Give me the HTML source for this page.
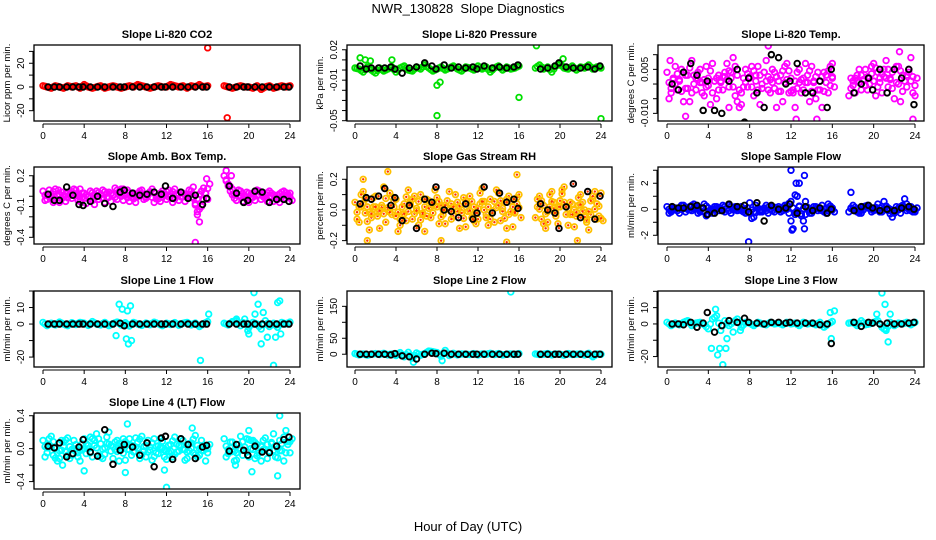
<!DOCTYPE html>
<html><head><meta charset="utf-8">
<style>
html,body{margin:0;padding:0;background:#fff;}
svg{display:block;font-family:"Liberation Sans",Arial,sans-serif;}
</style></head>
<body>
<svg id="chart" width="936" height="540" viewBox="0 0 936 540" xmlns="http://www.w3.org/2000/svg">
<rect width="936" height="540" fill="#fff"/>
<text x="468" y="13" text-anchor="middle" font-size="13">NWR_130828 &#160;Slope Diagnostics</text>
<text x="468" y="531" text-anchor="middle" font-size="13">Hour of Day (UTC)</text>
</svg>
<script>
const T=[0,0.4,0.8,1.2,1.6,2,2.4,2.8,3.2,3.6,4,4.4,4.8,5.2,5.6,6,6.4,6.8,7.2,7.6,8,8.4,8.8,9.2,9.6,10,10.4,10.8,11.2,11.6,12,12.4,12.8,13.2,13.6,14,14.4,14.8,15.2,15.6,16,17.6,18,18.4,18.8,19.2,19.6,20,20.4,20.8,21.2,21.6,22,22.4,22.8,23.2,23.6,24];
const TB=[0.5,1.1,1.6,2.3,2.9,3.5,3.9,4.6,5.3,6.0,6.8,7.5,7.9,8.7,9.4,10.1,10.8,11.5,11.9,12.6,13.4,14.1,14.8,15.5,15.9,18.1,18.8,19.5,19.9,20.6,21.3,22.0,22.7,23.4,23.9];
const xTicks=[0,4,8,12,16,20,24];

const co2A=[1,0,-1,1,0,-1,1,0,1,-1,2,0,-1,0,1,-1,0,1,0,-1,0,1,0,2,1,0,-1,0,1,0,0,2,1,0,1,-1,1,0,2,0,1,1,0,-1,0,1,0,0,-1,1,-2,0,1,-1,0,1,0,1];
const co2K=[0,0,0,0,0,0,0,0,0,0,0,0,0,0,0,0,0,0,0,0,0,0,0,0,0,0,0,0,0,0,0,0,0,0,0];
const co2OT=[16,17.9];
const co2OV=[33,-26];

const presA=[0.002,0.001,-0.002,0.003,0,-0.003,0.002,-0.001,0.001,0.003,-0.002,0.002,0.004,0,-0.001,0.003,0.001,0.005,0.002,-0.001,0.001,0.003,0,0.002,0.004,0.001,-0.001,0.003,0.002,0,0.004,0.001,0.003,-0.002,0.002,0.004,0,0.003,0.001,0.002,0.004,0.002,0.005,0.001,0.003,-0.002,0.004,0.006,0.002,0.001,0.004,0,0.003,0.002,0.005,0.001,0.003,0.002];
const presK=[0.004,0.001,0.002,0.002,0.002,0.003,0.001,-0.003,0.002,0.003,0.007,0.004,0.001,0.005,0.002,0.003,0.002,0.003,0.001,0.004,0.002,0.003,0.002,0.003,0.005,0.001,0.002,0.004,0.007,0.003,0.002,0.002,0.003,0.001,0.004];
const presOT=[0.5,1,1.5,3.6,8,8,8.3,16,17.7,20.3,24];
const presOV=[0.012,0.01,0.009,0.01,-0.015,-0.045,-0.012,-0.027,0.024,0.011,-0.048];

const tempA=[0.004,-0.003,0.006,0.001,-0.006,0.003,0.008,-0.002,0.005,-0.004,0.002,0.007,-0.005,0.001,0.004,-0.001,0.009,0.003,-0.007,0.005,0.002,-0.004,0.006,0.000,0.008,-0.003,0.004,0.001,-0.006,0.007,0.002,-0.008,0.005,-0.002,0.003,0.006,-0.005,0.001,0.004,-0.003,0.002,-0.004,0.001,0.003,-0.002,0.005,0.000,0.007,0.004,-0.003,0.008,0.002,-0.005,0.006,0.003,-0.001,0.009,-0.004];
const tempB=[-0.005,0.002,-0.002,0.005,0.003,-0.006,0.000,0.004,-0.003,0.006,-0.007,0.001,0.003,-0.002,0.007,0.002,-0.004,-0.008,0.002,-0.001,0.006,0.003,-0.007,0.004,-0.002,0.005,-0.008,0.003,0.006,-0.003,-0.002,0.004,-0.003,0.007,-0.006,0.001,0.004,-0.008,0.003,0.006,-0.001,0.002,-0.003,0.005,0.001,-0.002,0.006,-0.004,0.002,0.005,-0.001,0.004,0.006,-0.006,0.001,0.005,-0.003,0.002];
const tempK=[0.000,-0.002,0.004,0.007,0.003,-0.009,0.001,-0.009,-0.010,0.001,0.005,-0.013,0.002,-0.003,-0.008,0.010,0.009,0.000,0.001,0.007,-0.003,-0.003,0.001,-0.008,0.005,-0.003,0.000,0.002,-0.002,0.005,-0.003,0.005,0.002,0.005,-0.007];
const tempOT=[0.3,1.8,6,9.8,12.5,14.5,16,22.5,23.8];
const tempOV=[0.008,-0.011,-0.008,0.013,-0.012,-0.012,0.007,0.011,-0.012];

const ambA=[0.05,-0.03,0.02,0.07,-0.06,0.01,0.04,-0.02,0.06,-0.05,0.03,0.00,-0.04,0.05,0.02,-0.06,0.04,0.01,-0.03,0.07,0.02,-0.05,0.03,0.00,0.06,-0.02,0.04,-0.06,0.01,0.05,-0.03,0.02,0.07,-0.04,0.03,-0.01,0.05,-0.07,0.02,0.08,-0.03,0.20,0.12,0.07,-0.04,0.05,0.00,-0.06,0.03,0.06,-0.03,0.02,0.05,-0.05,0.01,0.04,-0.02,0.03];
const ambB=[-0.04,0.06,-0.06,0.00,0.04,-0.05,0.02,0.07,-0.04,0.03,-0.07,0.05,0.02,-0.03,0.06,0.03,-0.05,0.08,0.04,-0.04,0.06,0.01,-0.06,0.05,-0.03,0.02,0.07,0.00,-0.05,0.03,0.06,-0.06,0.01,0.04,-0.05,0.06,-0.02,-0.15,-0.10,0.03,0.12,0.15,0.05,-0.02,0.06,-0.05,0.04,0.02,-0.04,0.05,0.01,-0.05,0.03,0.00,-0.06,0.05,0.02,-0.04];
const ambK=[0.02,-0.04,-0.04,0.09,0.01,-0.08,-0.09,-0.05,0.00,-0.07,-0.10,0.04,0.06,0.03,0.01,0.02,0.04,0.02,0.10,-0.02,0.04,-0.02,0.01,-0.08,-0.02,0.10,0.03,-0.06,-0.04,0.05,0.04,-0.06,-0.03,-0.03,-0.05];
const ambOT=[1.5,3.6,5,7.8,14.6,15.0,15.2,15.9,17.8,18.3,14.8];
const ambOV=[0.06,0.07,-0.08,0.07,0.09,-0.18,-0.25,0.17,0.25,0.2,-0.45];

const rhA=[0.05,-0.08,0.12,0.02,-0.05,0.09,-0.12,0.15,0.00,-0.03,0.07,-0.10,0.04,0.13,-0.06,0.01,0.10,-0.14,0.06,-0.02,0.08,0.03,-0.09,0.12,-0.04,0.05,0.00,-0.11,0.09,0.02,-0.06,0.14,-0.03,0.07,-0.08,0.11,0.01,-0.12,0.06,-0.02,0.10,-0.05,0.09,0.03,-0.08,0.12,-0.02,0.06,0.15,-0.10,0.04,-0.04,0.10,0.00,-0.13,0.07,-0.06,0.11];
const rhB=[-0.06,0.10,-0.02,-0.13,0.08,-0.04,0.03,-0.08,0.11,0.06,-0.14,0.02,-0.07,0.05,0.09,-0.10,-0.03,0.07,-0.05,0.13,-0.09,0.00,0.06,-0.06,0.10,-0.12,0.08,0.04,-0.05,-0.09,0.11,0.00,-0.10,-0.02,0.13,-0.07,0.05,0.09,-0.11,0.08,-0.05,0.07,-0.06,-0.12,0.10,0.01,-0.09,0.13,-0.03,0.05,-0.11,0.08,-0.01,-0.08,0.06,0.12,-0.04,-0.07];
const rhK=[0.04,0.08,0.07,0.09,0.14,0.03,0.08,-0.07,0.03,-0.12,0.07,0.05,0.15,0.00,-0.01,-0.05,0.04,-0.06,-0.02,0.15,-0.02,0.11,0.05,0.07,0.01,0.04,0.00,-0.02,-0.12,0.02,0.17,-0.05,0.12,-0.06,0.09];
const rhOT=[3.2,15.8,0.8,8.4,1.2,14.8,21.7];
const rhOV=[0.25,0.23,0.2,-0.2,-0.2,-0.21,-0.2];

const sfA=[0.2,-0.2,0.1,-0.3,0.3,0,-0.1,0.2,-0.2,0.4,0.1,-0.3,0.2,0,-0.2,0.3,0.1,-0.1,0.2,-0.3,0.5,-0.6,0.1,-0.2,0.3,0,-0.2,0.2,-0.1,0.3,0.6,-0.4,0.2,-0.9,0.1,-0.3,0.2,0,-0.2,0.4,0.1,-0.2,0.3,0,-0.3,0.2,0.1,-0.1,0.4,-0.2,0.2,0,-0.3,0.1,0.3,-0.1,0.2,-0.2];
const sfB=[-0.3,0.1,-0.1,0.3,-0.2,0.2,0.4,-0.3,0.1,-0.5,-0.2,0.2,-0.1,0.3,0.1,-0.3,0.2,0.0,-0.2,0.1,-0.7,0.3,-0.2,0.1,-0.3,0.2,0.1,-0.2,0.3,-0.3,-1.5,1.0,-0.5,0.6,-0.3,0.2,-0.1,0.3,-0.3,0.1,-0.2,0.1,-0.1,-0.3,0.2,0.3,-0.2,0.1,-0.2,0.6,-0.1,-0.6,0.2,-0.3,0.8,0.0,-0.2,0.1];
const sfK=[0.2,0.1,0.1,0.2,0.3,0.1,-0.4,-0.3,-0.1,0.4,0.2,0.3,-0.2,0.5,-0.9,0.3,0,0.1,0.4,-0.3,0.2,-0.1,0.1,-0.3,0.0,-0.1,0.2,0.3,0.1,-0.1,0.0,-0.1,0.1,0.2,0.0];
const sfOT=[12,12.5,12.8,13.3,12.1,13.3,17.8,7.9,12.4];
const sfOV=[3.0,2.0,2.0,2.6,-1.6,-1.5,1.3,-2.5,1.1];

const l1A=[1,-1,0.5,-0.5,1.2,0,-1,0.8,-0.3,1,0.5,-0.8,1.5,0,-0.5,1,-1,0.3,1.2,-0.6,0.8,-1.2,1,0,-0.8,0.6,-0.4,1.1,0.2,-1,0.5,-0.3,0.9,-0.7,0.4,1,-0.5,0.6,-1.5,0.2,1.5,0.5,-0.5,1.5,2,-1,3,-2,1,0,-3,2,-1.5,0.5,-2,1,0,1.2];
const l1K=[0,0,0,0,0,0,0,0,0,0,0,0.5,-1,0,0,0,0,0,0,0,0,0,0,0,0,0,0,0,0,0,0,0,0,0,0];
const l1OT=[7.4,7.1,7.7,8.2,8.5,8.1,8.3,8.6,15.3,16.1,18.8,20.6,20.9,21.2,21.4,22.4,22.8,22.6,23.1,20.0,19.9,23.0,21.8,20.5];
const l1OV=[12,-7,9,8,11,-9,-12,-10,-22,6,3,6,12,-12,7,-25,13,-8,-6,-6,-4,14,-8,19];

const l2A=[2,-2,1,-3,0,2,-1,3,-2,1,-4,5,-8,6,-12,4,-3,2,10,8,5,-6,12,-4,3,-2,1,0,-1,2,-2,1,0,3,-1,2,-2,0,1,-1,2,1,-1,0,2,-2,1,0,-3,2,-1,0,1,-2,3,-8,1,0];
const l2K=[0,0,0,0,0,-2,2,-5,-8,-15,0,3,2,3,0,0,0,0,0,0,0,0,0,0,0,0,0,0,0,0,0,0,0,0,0];
const l2OT=[15.2,5.7,8.5];
const l2OV=[195,-25,-20];

const l3A=[1,-1,0.5,-0.5,1,2,-1,0.5,1,-0.5,-3,3,5,-4,2,-1,1,3,-2,1,0.5,-1,1,0,-0.5,1,0,0.5,-0.5,1,0,0.5,-1,1,0,0.5,-0.5,1,-2,0,1.5,0.5,1,-1,2,-0.5,0,1,2,-2,-4,1,-1,0.5,0,1,-0.5,1];
const l3K=[0,0,-0.5,1,-2,0.5,7,-5,-1,2,1,3.5,1,0.5,0,1,1,0.5,1,0.5,0.5,0.5,-0.5,0,-12,1,-1.5,1,0.5,0,0.5,0,0,0.5,1];
const l3OT=[5.4,4.9,5.1,5.7,4.3,4.7,5.8,6.4,7.1,15.8,16.2,15.9,20.8,21.1,21.4,21.6,21.2,20.3];
const l3OV=[-25,-19,-15,-15,-15,9,-9,-5,-4,7,8,-9,19,12,-11,6,-3,6];

const l4A=[0.10,-0.05,0.15,0.02,-0.12,0.08,0.13,-0.08,0.05,-0.15,0.12,0.00,-0.10,0.18,0.06,-0.07,0.20,-0.12,0.10,0.03,-0.14,0.12,-0.04,0.08,0.15,-0.10,0.02,0.12,-0.06,0.09,-0.13,0.05,0.14,-0.03,0.10,-0.12,0.07,0.16,-0.08,0.04,0.00,0.12,-0.06,0.08,-0.14,0.15,0.02,-0.10,0.10,0.05,-0.15,0.13,-0.03,0.18,-0.11,0.06,0.22,-0.05];
const l4B=[-0.10,0.12,-0.08,-0.15,0.10,-0.04,-0.12,0.10,-0.10,0.06,-0.06,0.14,0.10,-0.08,-0.12,0.14,-0.03,0.08,-0.15,0.12,0.05,-0.08,0.13,-0.12,-0.03,0.10,-0.14,-0.05,0.12,-0.10,0.04,-0.10,-0.04,0.12,-0.14,0.06,-0.05,-0.10,0.10,-0.15,0.05,-0.10,0.08,-0.15,0.05,-0.08,0.12,0.10,-0.12,-0.05,0.10,-0.12,0.06,-0.10,0.10,-0.15,0.05,0.12];
const l4K=[0.03,0.01,0.07,-0.1,-0.06,0.02,0.11,-0.04,-0.09,0.23,-0.19,-0.02,0.05,0.02,-0.08,0.07,-0.22,0.13,0.15,-0.13,0.12,0.05,-0.12,0.02,0.04,-0.03,0.05,-0.02,-0.08,0.03,-0.04,-0.05,0.03,0.11,0.14];
const l4OT=[12.0,23.0,1.9,4.0,8.0,11.8,20.3,22.8,8.2,14.5,20.0,18.7];
const l4OV=[-0.47,0.4,-0.2,-0.27,-0.29,-0.26,-0.28,-0.33,0.3,0.25,0.22,-0.2];

const NS="http://www.w3.org/2000/svg";
const svg=document.getElementById('chart');
const COLS=[[34,300,43,290],[347,612,355,601],[658,924,667,915]];
const ROWS=[[45,121],[167,244],[291,367],[413,489]];
function mk(tag,attrs,parent){const e=document.createElementNS(NS,tag);for(const k in attrs)e.setAttribute(k,attrs[k]);(parent||svg).appendChild(e);return e;}

const panels=[
 {name:'co2',title:'Slope Li-820 CO2',yl:'Licor ppm per min.',c:0,r:0,ymin:-28.7,ymax:35.4,ticks:[-20,-10,0,10,20,30],labs:['-20','0','20'],labv:[-20,0,20],col:'#ff0000',A:co2A,B:null,K:co2K,OT:co2OT,OV:co2OV},
 {name:'pressure',title:'Slope Li-820 Pressure',yl:'kPa per min.',c:1,r:0,ymin:-0.0503,ymax:0.0247,ticks:[-0.05,-0.04,-0.03,-0.02,-0.01,0,0.01,0.02],labs:['0.02','-0.01','-0.05'],labv:[0.02,-0.01,-0.05],col:'#00e000',A:presA,B:null,K:presK,OT:presOT,OV:presOV},
 {name:'li820-temp',title:'Slope Li-820 Temp.',yl:'degrees C per min.',c:2,r:0,ymin:-0.0126,ymax:0.0133,ticks:[-0.01,-0.005,0,0.005,0.01],labs:['0.005','-0.010'],labv:[0.005,-0.01],col:'#ff00ff',A:tempA,B:tempB,K:tempK,OT:tempOT,OV:tempOV},
 {name:'amb-box-temp',title:'Slope Amb. Box Temp.',yl:'degrees C per min.',c:0,r:1,ymin:-0.465,ymax:0.285,ticks:[-0.4,-0.3,-0.2,-0.1,0,0.1,0.2],labs:['0.2','-0.1','-0.4'],labv:[0.2,-0.1,-0.4],col:'#ff00ff',A:ambA,B:ambB,K:ambK,OT:ambOT,OV:ambOV},
 {name:'gas-stream-rh',title:'Slope Gas Stream RH',yl:'percent per min.',c:1,r:1,ymin:-0.222,ymax:0.28,ticks:[-0.2,-0.1,0,0.1,0.2],labs:['0.2','0.0','-0.2'],labv:[0.2,0,-0.2],col:'#ffc000',col2:'#ff3000',A:rhA,B:rhB,K:rhK,OT:rhOT,OV:rhOV},
 {name:'sample-flow',title:'Slope Sample Flow',yl:'ml/min per min.',c:2,r:1,ymin:-2.67,ymax:3.25,ticks:[-2,-1,0,1,2,3],labs:['2','0','-2'],labv:[2,0,-2],col:'#0000ff',A:sfA,B:sfB,K:sfK,OT:sfOT,OV:sfOV},
 {name:'line1-flow',title:'Slope Line 1 Flow',yl:'ml/min per min.',c:0,r:2,ymin:-26,ymax:20,ticks:[-20,-10,0,10,20],labs:['10','0','-20'],labv:[10,0,-20],col:'#00ffff',A:l1A,B:null,K:l1K,OT:l1OT,OV:l1OV},
 {name:'line2-flow',title:'Slope Line 2 Flow',yl:'ml/min per min.',c:1,r:2,ymin:-40,ymax:198,ticks:[0,50,100,150],labs:['150','50','0'],labv:[150,50,0],col:'#00ffff',A:l2A,B:null,K:l2K,OT:l2OT,OV:l2OV},
 {name:'line3-flow',title:'Slope Line 3 Flow',yl:'ml/min per min.',c:2,r:2,ymin:-26.4,ymax:20.2,ticks:[-20,-10,0,10,20],labs:['10','0','-20'],labv:[10,0,-20],col:'#00ffff',A:l3A,B:null,K:l3K,OT:l3OT,OV:l3OV},
 {name:'line4-flow',title:'Slope Line 4 (LT) Flow',yl:'ml/min per min.',c:0,r:3,ymin:-0.49,ymax:0.433,ticks:[-0.4,-0.2,0,0.2,0.4],labs:['0.4','0.0','-0.4'],labv:[0.4,0,-0.4],col:'#00ffff',A:l4A,B:l4B,K:l4K,OT:l4OT,OV:l4OV}
];

panels.forEach(p=>{
  const [bl,br,x0,x24]=COLS[p.c];const [bt,bb]=ROWS[p.r];
  const xs=t=>x0+(x24-x0)*t/24;
  const ys=v=>bb-(bb-bt)*(v-p.ymin)/(p.ymax-p.ymin);
  const g=mk('g',{});
  
  
  const tt=mk('text',{x:(bl+br)/2,y:bt-7,'text-anchor':'middle','font-size':'11','font-weight':'bold'},g);
  tt.textContent=p.title;
  
  
  const yl=mk('text',{x:0,y:0,'text-anchor':'middle','font-size':'9.5',transform:`translate(${bl-24},${(bt+bb)/2}) rotate(-90)`},g);
  yl.textContent=p.yl;
  
  
  p.ticks.forEach(v=>{const y=ys(v);if(y<bt-1||y>bb+1)return;mk('line',{x1:bl-5,x2:bl,y1:y,y2:y,stroke:'#000','stroke-width':1},g);});
  mk('line',{x1:bl-1,x2:bl-1,y1:ys(p.ticks[0]),y2:Math.max(bt,ys(p.ticks[p.ticks.length-1])),stroke:'#000'},g);
  p.labv.forEach((v,i)=>{const y=ys(v);const t=mk('text',{x:0,y:0,'text-anchor':'middle','font-size':'10',transform:`translate(${bl-10},${y}) rotate(-90)`},g);t.textContent=p.labs[i];
    
    });
  mk('line',{x1:x0,x2:x24,y1:bb+3,y2:bb+3,stroke:'#000'},g);
  xTicks.forEach(v=>{const x=xs(v);mk('line',{x1:x,x2:x,y1:bb+3,y2:bb+7,stroke:'#000'},g);
    const t=mk('text',{x:x,y:bb+18,'text-anchor':'middle','font-size':'10'},g);t.textContent=v;
    
    });
  const cid='clip-'+p.name;
  const cp=mk('clipPath',{id:cid},g);mk('rect',{x:bl,y:bt,width:br-bl,height:bb-bt},cp);
  const pg=mk('g',{'clip-path':`url(#${cid})`},g);
  
  
  const dot=(t,v,col,sw)=>{const c=mk('circle',{cx:xs(t),cy:ys(v),r:2.8,fill:'none',stroke:col,'stroke-width':sw},pg);
    
    
    if(p.col2){mk('circle',{cx:xs(t),cy:ys(v),r:1.2,fill:p.col2},pg);} };
  T.forEach((t,i)=>{if(p.A[i]!==undefined)dot(t,p.A[i],p.col,1.8);});
  if(p.B)T.forEach((t,i)=>{if(p.B[i]!==undefined)dot(t+0.2,p.B[i],p.col,1.8);});
  T.forEach((t,i)=>{if(i+1<T.length&&T[i+1]-t<0.5&&p.A[i+1]!==undefined)dot(t+0.2,(p.A[i]+p.A[i+1])/2,p.col,1.8);});
  if(p.B)T.forEach((t,i)=>{if(i+1<T.length&&T[i+1]-t<0.5&&p.B[i+1]!==undefined)dot(t+0.4,(p.B[i]+p.B[i+1])/2,p.col,1.8);});
  p.OT.forEach((t,i)=>dot(t,p.OV[i],p.col,1.8));
  TB.forEach((t,i)=>{if(p.K[i]!==undefined)dot(t,p.K[i],'#000',1.9);});
  const box=mk('rect',{x:bl,y:bt,width:br-bl,height:bb-bt,fill:'none',stroke:'#000','stroke-width':1.3},g);
  
  
});
</script>
</body></html>
